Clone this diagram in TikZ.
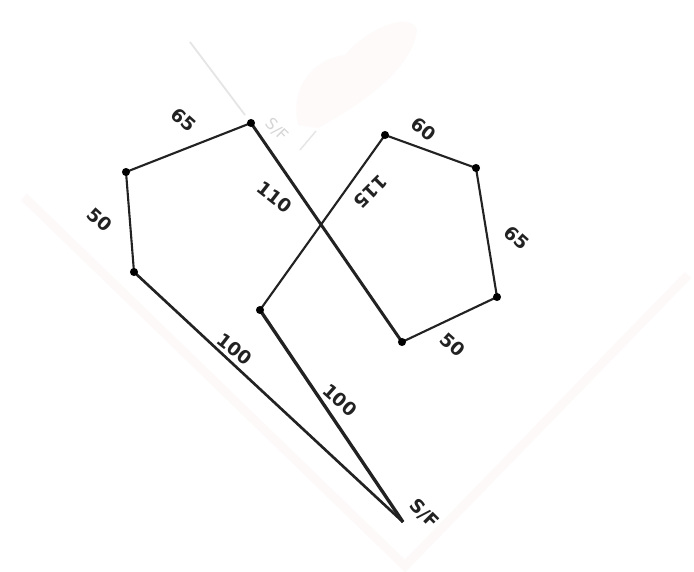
\documentclass[tikz,border=0pt]{standalone}
\usepackage{fontspec}
\setmainfont{DejaVu Sans}
\definecolor{ink}{HTML}{222222}
\definecolor{paper}{HTML}{FDF9F8}
\definecolor{blob}{HTML}{FEFAFA}
\tikzset{
  x=0.02cm,y=-0.02cm,
  edgeline/.style={draw=ink,line width=1.5pt,line join=round},
  vertexdot/.style={circle,fill=black,inner sep=0pt,minimum size=4.6pt},
  lenlabel/.style={font=\bfseries\fontsize{10.5pt}{12pt}\selectfont,text=ink,inner sep=0pt},
  fainttext/.style={font=\fontsize{9pt}{11pt}\selectfont,text=black!16,inner sep=0pt},
}
\begin{document}
\begin{tikzpicture}
\useasboundingbox (0,0) rectangle (694,572);
% pale paper traces
\fill[white] (0,0) rectangle (694,572);
\draw[paper,line width=5pt] (24,197) -- (405,566) -- (688,275);
\fill[blob] (298,125) .. controls (290,90) and (310,60) .. (345,55) .. controls (365,30) and (410,10) .. (417,30) .. controls (412,70) and (360,105) .. (318,128) -- cycle;
\draw[black!10,line width=1pt] (190,42) -- (245,115);
\draw[black!10,line width=.8pt] (300,150) -- (316,131);
\node[fainttext,rotate=-45] (ghost) at (277,130) {S/F};
% vertices
\coordinate (a) at (403,522);
\coordinate (b) at (134,272);
\coordinate (c) at (126,172);
\coordinate (d) at (251,123);
\coordinate (e) at (402,342);
\coordinate (f) at (497,297);
\coordinate (g) at (476,168);
\coordinate (h) at (385,135);
\coordinate (i) at (260,310);
% edges
\draw[edgeline] (a) -- (b);
\draw[edgeline,line width=1.2pt] (b) -- (c) -- (d);
\draw[edgeline,line width=1.7pt] (d) -- (e);
\draw[edgeline,line width=1.2pt] (e) -- (f) -- (g) -- (h) -- (i);
\draw[edgeline,line width=1.9pt] (i) -- (a);
% dots
\foreach \v in {b,c,d,e,f,g,h,i} \node[vertexdot] at (\v) {};
% labels
\node[lenlabel,rotate=-42] (l65a) at (184,120) {65};
\node[lenlabel,rotate=-42] (l50a) at (100,220) {50};
\node[lenlabel,rotate=-38] (l100a) at (235,349) {100};
\node[lenlabel,rotate=-38] (l110) at (275,197) {110};
\node[lenlabel,rotate=-135] (l115) at (371,192) {115};
\node[lenlabel,rotate=-38] (l60) at (424,129) {60};
\node[lenlabel,rotate=-42] (l65b) at (517,238) {65};
\node[lenlabel,rotate=-42] (l50b) at (453,345) {50};
\node[lenlabel,rotate=-42] (l100b) at (340,400) {100};
\node[lenlabel,rotate=-45] (lsf) at (424,514) {S/F};
\end{tikzpicture}
\end{document}
